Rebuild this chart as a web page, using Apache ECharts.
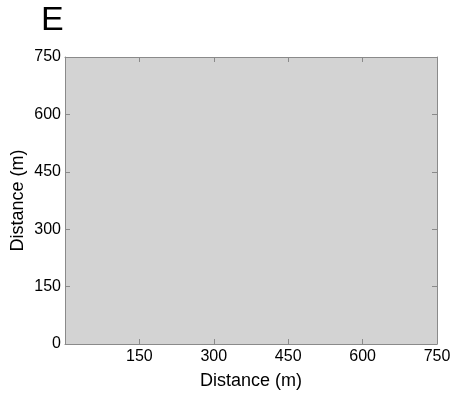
<!DOCTYPE html>
<html><head><meta charset="utf-8">
<script src="https://cdn.jsdelivr.net/npm/echarts@6/dist/echarts.min.js"></script>
<style>html,body{margin:0;padding:0;background:#fff}#c{width:454px;height:395px}</style>
</head><body><div id="c"></div>
<script>
var panelTitle = "E";
var xName = "Distance (m)";
var yName = "Distance (m)";
var xRange = [0, 750];
var yRange = [0, 750];
var tickStep = 150;

var chart = echarts.init(document.getElementById('c'), null, {renderer: 'canvas'});
var font = 'Liberation Sans, Arial, Helvetica, sans-serif';
var lineC = '#8a8a8a';
function axisBase(extra) {
  var a = {
    type: 'value', min: 0, max: 750, interval: tickStep,
    axisLine: {show: true, onZero: false, lineStyle: {color: lineC, width: 1}},
    axisTick: {show: true, inside: true, length: 5, lineStyle: {color: lineC}},
    splitLine: {show: false},
    axisLabel: {color: '#000', fontSize: 16, fontFamily: font}
  };
  for (var k in extra) a[k] = extra[k];
  return a;
}
chart.setOption({
  animation: false,
  title: {text: panelTitle, left: 36, top: -1, textStyle: {fontSize: 34, fontWeight: 'normal', color: '#000', fontFamily: font}},
  grid: {left: 65, right: 17, top: 57, bottom: 51, show: true, backgroundColor: '#d3d3d3', borderWidth: 0, containLabel: false, outerBoundsMode: 'none'},
  xAxis: [
    axisBase({min: xRange[0], max: xRange[1], position: 'bottom', name: xName, nameLocation: 'middle', nameGap: 28, nameMoveOverlap: false,
      nameTextStyle: {color: '#000', fontSize: 18, fontFamily: font},
      axisLabel: {color: '#000', fontSize: 16, fontFamily: font, margin: 5, formatter: function(v){return v === 0 ? '' : String(v);}}}),
    axisBase({min: xRange[0], max: xRange[1], position: 'top', axisLabel: {show: false}})
  ],
  yAxis: [
    axisBase({min: yRange[0], max: yRange[1], position: 'left', name: yName, nameLocation: 'middle', nameGap: 38, nameMoveOverlap: false,
      nameTextStyle: {color: '#000', fontSize: 18, fontFamily: font},
      axisLabel: {color: '#000', fontSize: 16, fontFamily: font, margin: 4}}),
    axisBase({min: yRange[0], max: yRange[1], position: 'right', axisLabel: {show: false}})
  ],
  series: []
});
</script></body></html>
